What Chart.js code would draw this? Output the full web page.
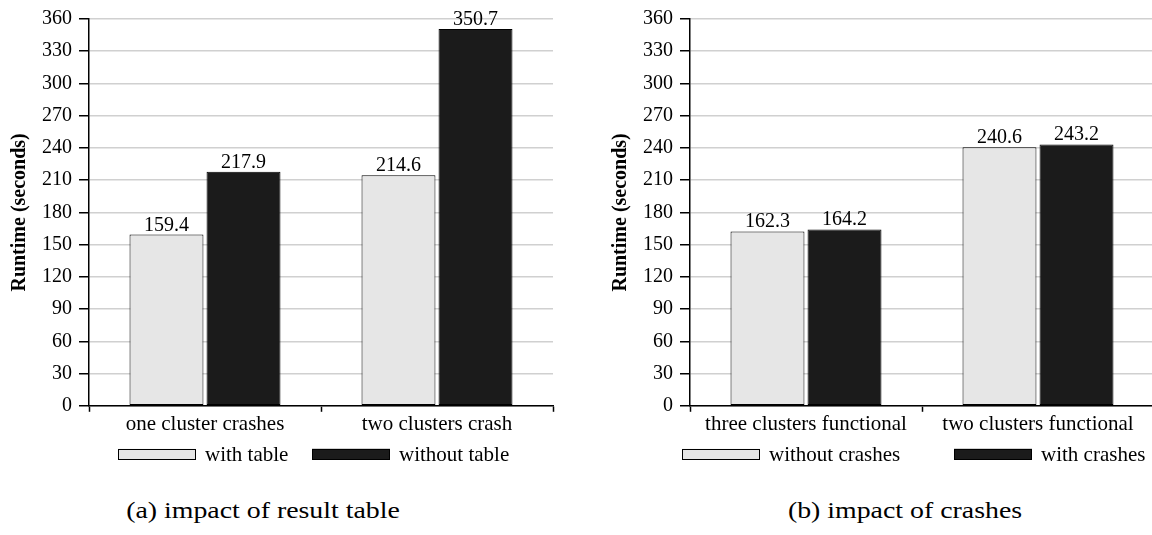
<!DOCTYPE html>
<html>
<head>
<meta charset="utf-8">
<script src="https://cdn.jsdelivr.net/npm/chart.js@4.4.1/dist/chart.umd.min.js"></script>
<style>
  html, body { margin: 0; padding: 0; background: #fff; }
  body { width: 1152px; height: 535px; position: relative; overflow: hidden; }
  .panel { position: absolute; top: 0; width: 565px; height: 480px; }
  #panelA { left: 0; }
  #panelB { left: 601px; }
  .caption {
    position: absolute; top: 497px; width: 400px; text-align: center;
    font-family: "Liberation Serif", serif; font-size: 24px;
    color: #000; white-space: nowrap; transform: scaleX(1.16); transform-origin: center top;
  }
  #capA { left: 63px; }
  #capB { left: 705px; }
</style>
</head>
<body>
<div class="panel" id="panelA"><canvas id="chartA"></canvas></div>
<div class="panel" id="panelB"><canvas id="chartB"></canvas></div>
<div class="caption" id="capA">(a) impact of result table</div>
<div class="caption" id="capB">(b) impact of crashes</div>

<script>
// Panel (a): effect of the result table
const categoriesA = ['one cluster crashes', 'two clusters crash'];
const withTable = [159.4, 214.6];
const withoutTable = [217.9, 350.7];

// Panel (b): effect of crashes
const categoriesB = ['three clusters functional', 'two clusters functional'];
const withoutCrashes = [162.3, 240.6];
const withCrashes = [164.2, 243.2];

// Runtime axis range
const yMin = 0;
const yMax = 360;
const yStep = 30;

const LIGHT = '#e6e6e6';
const DARK = '#1b1b1b';
const SERIF = '"Liberation Serif", "Times New Roman", serif';

Chart.defaults.font.family = SERIF;
Chart.defaults.font.size = 20;
Chart.defaults.color = '#000';

// Prints each bar's value just above it
const valueLabels = {
  id: 'valueLabels',
  afterDatasetsDraw(chart) {
    const ctx = chart.ctx;
    ctx.save();
    ctx.font = '20px ' + SERIF;
    ctx.fillStyle = '#000';
    ctx.textAlign = 'center';
    ctx.textBaseline = 'alphabetic';
    chart.data.datasets.forEach((ds, i) => {
      chart.getDatasetMeta(i).data.forEach((bar, j) => {
        ctx.fillText(ds.data[j].toFixed(1), bar.x, bar.y - 4);
      });
    });
    ctx.restore();
  }
};

// Legend row under the category labels: a wide swatch per series, then its name.
// Item offsets are measured from the left edge of the plot area.
const swatchLegend = {
  id: 'swatchLegend',
  afterDraw(chart, args, opts) {
    const ctx = chart.ctx;
    const area = chart.chartArea;
    const yMid = area.bottom + opts.offsetY;
    ctx.save();
    ctx.font = '21px ' + SERIF;
    ctx.textAlign = 'left';
    ctx.textBaseline = 'middle';
    chart.data.datasets.forEach((ds, i) => {
      const x = area.left + opts.itemX[i];
      const w = opts.boxWidth, h = opts.boxHeight;
      ctx.fillStyle = ds.backgroundColor;
      ctx.fillRect(x, yMid - h / 2, w, h);
      ctx.lineWidth = 1;
      ctx.strokeStyle = ds.borderColor;
      ctx.strokeRect(x + 0.5, Math.round(yMid - h / 2) + 0.5, w - 1, h - 1);
      ctx.fillStyle = '#000';
      ctx.fillText(ds.label, x + w + 9, yMid + 1);
    });
    ctx.restore();
  }
};

function makeChart(id, categories, names, seriesA, seriesB, legendItemX) {
  return new Chart(document.getElementById(id), {
    type: 'bar',
    data: {
      labels: categories,
      datasets: [
        { label: names[0], data: seriesA, backgroundColor: LIGHT, borderColor: '#000', borderWidth: 1, borderSkipped: false },
        { label: names[1], data: seriesB, backgroundColor: DARK, borderColor: '#000', borderWidth: 1, borderSkipped: false }
      ]
    },
    options: {
      responsive: true,
      maintainAspectRatio: false,
      animation: false,
      categoryPercentage: 0.664,
      barPercentage: 0.96,
      layout: { padding: { left: 0, right: 12, top: 19, bottom: 43 } },
      plugins: {
        legend: { display: false },
        tooltip: { enabled: false },
        swatchLegend: { itemX: legendItemX, offsetY: 48.5, boxWidth: 78, boxHeight: 11 }
      },
      scales: {
        x: {
          offset: true,
          grid: { display: true, drawOnChartArea: false, offset: true, tickLength: 6, tickColor: '#000', tickWidth: 1.5 },
          border: { display: true, color: '#000', width: 1.5 },
          ticks: { font: { size: 21 }, color: '#000', padding: 0, maxRotation: 0, autoSkip: false }
        },
        y: {
          min: yMin,
          max: yMax,
          afterFit(scale) { scale.width = 89; },
          ticks: { stepSize: yStep, font: { size: 20 }, color: '#000', padding: 7, autoSkip: false },
          grid: { color: '#d0d0d0', lineWidth: 1.5, tickLength: 10, tickColor: '#000', tickWidth: 1.5 },
          border: { display: true, color: '#000', width: 1.5 },
          title: {
            display: true,
            text: 'Runtime (seconds)',
            font: { size: 20, weight: 'bold' },
            color: '#000',
            padding: { top: 8, bottom: 0 }
          }
        }
      }
    },
    plugins: [valueLabels, swatchLegend]
  });
}

makeChart('chartA', categoriesA, ['with table', 'without table'], withTable, withoutTable, [29, 223]);
makeChart('chartB', categoriesB, ['without crashes', 'with crashes'], withoutCrashes, withCrashes, [-8, 264]);
</script>
</body>
</html>
